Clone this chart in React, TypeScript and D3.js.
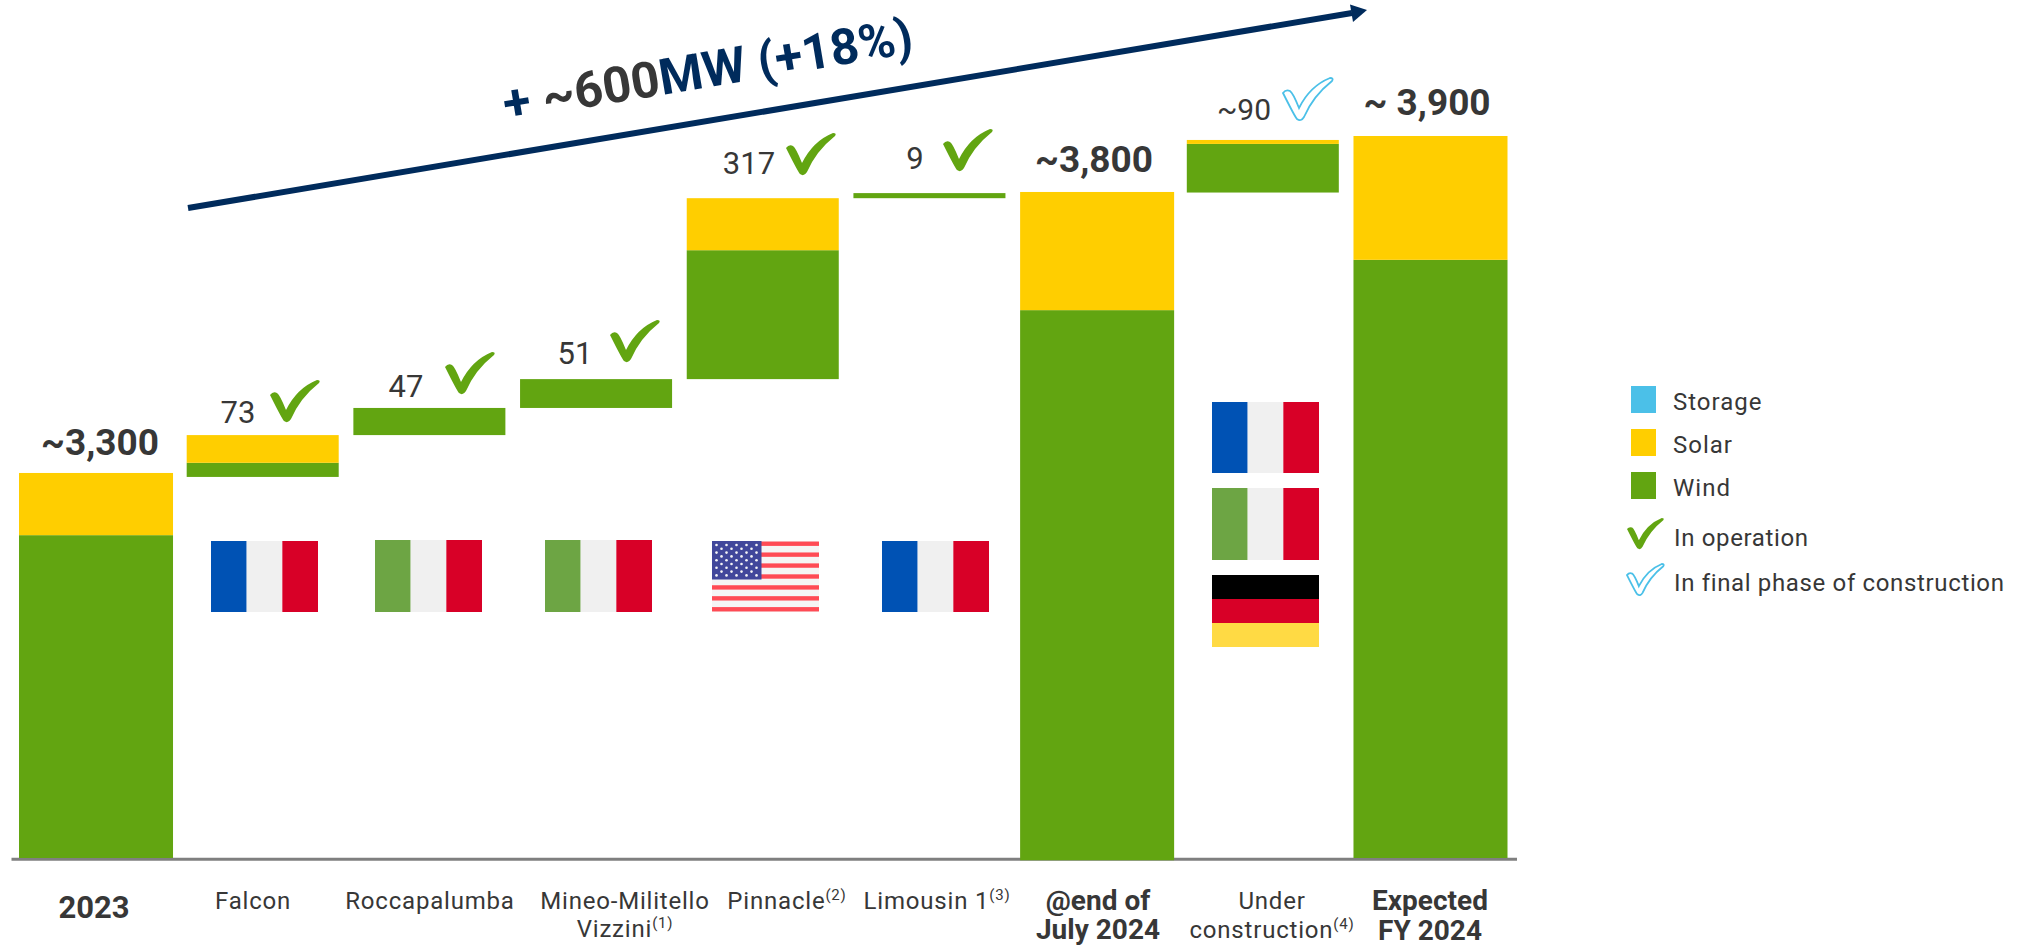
import { useRef, useEffect } from 'react';
import * as d3 from 'd3';

// MW values. The value axis is cut: it starts at axisFloor, not zero.
const axisFloor = 2619;
const axisTop = 3896;
const categories = ['2023', 'Falcon', 'Roccapalumba', 'Mineo', 'Pinnacle', 'Limousin', 'July2024', 'Construction', 'FY2024'];
const floorMW = [2619, 3293, 3367, 3415, 3466, 3786, 2615, 3796, 2619];
const windMW = [571, 25, 48, 51, 228, 9, 973, 86, 1058];
const solarMW = [110, 49, 0, 0, 92, 0, 209, 7, 219];
const valueLabels = ['~3,300', '73', '47', '51', '317', '9', '~3,800', '~90', '~ 3,900'];
const axisLabels: [string, string][][] = [
  [['2023', '']],
  [['Falcon', '']],
  [['Roccapalumba', '']],
  [['Mineo-Militello', ''], ['Vizzini', '(1)']],
  [['Pinnacle', '(2)']],
  [['Limousin 1', '(3)']],
  [['@end of', ''], ['July 2024', '']],
  [['Under', ''], ['construction', '(4)']],
  [['Expected', ''], ['FY 2024', '']],
];
const boldColumns = ['2023', 'July2024', 'FY2024'];
const legendSquares = ['Storage', 'Solar', 'Wind'];
const legendChecks = ['In operation', 'In final phase of construction'];

// layout of the annotations
const valueLabelX = [100, 238, 406, 575, 749, 915, 1094, 1244, 1427];
const valueLabelY = [455, 423, 397, 364, 174, 169, 172, 120, 115];
const axisLabelX = [94, 253, 430, 625, 787, 937, 1098, 1272, 1430];
const axisLabelY = [[918], [909], [909], [909, 937], [909], [909], [910, 939], [909, 938], [910, 939.5]];
const checks = [
  { x: 270, y: 380, done: true },
  { x: 445, y: 352, done: true },
  { x: 610, y: 320, done: true },
  { x: 786, y: 133, done: true },
  { x: 943, y: 129, done: true },
  { x: 1283, y: 78, done: false },
];
const flags = [
  { kind: 'fr', x: 211, y: 541 },
  { kind: 'it', x: 375, y: 540 },
  { kind: 'it', x: 545, y: 540 },
  { kind: 'us', x: 712, y: 541 },
  { kind: 'fr', x: 882, y: 541 },
  { kind: 'fr', x: 1212, y: 402 },
  { kind: 'it', x: 1212, y: 488 },
  { kind: 'de', x: 1212, y: 575 },
];

const WIND = '#62a511';
const SOLAR = '#ffce00';
const STORAGE = '#4bc0e8';
const NAVY = '#002b5c';
const TEXT = '#373737';
const FONT = 'Roboto, sans-serif';
const CHECK_PATH = 'M0 15 Q3 11 7 13 Q10 15 16 30 Q27 8 47 0 Q51 0 49 3 Q30 18 21 39 Q18 44 14 41 Q12 39 0 15 Z';

const App = () => {
  const svgRef = useRef<SVGSVGElement>(null);

  useEffect(() => {
    if (!svgRef.current) return;
    const svg = d3.select(svgRef.current);
    svg.selectAll('*').remove();

    const x = d3.scaleBand()
      .domain(categories)
      .range([11.5, 1517])
      .paddingInner(0.088)
      .paddingOuter(0.06)
      .align(0.425);
    const y = d3.scaleLinear().domain([axisFloor, axisTop]).range([858, 136]);

    // axis line goes under the bars, labels are added by hand because of the superscripts
    const axis = svg.append('g')
      .attr('transform', 'translate(-0.5,858.7)')
      .call(d3.axisBottom(x).tickSize(0).tickSizeOuter(0).tickFormat(() => ''));
    axis.select('.domain').attr('stroke', '#7f7f7f').attr('stroke-width', 3);

    const bars = svg.append('g').selectAll('g')
      .data(categories)
      .join('g');
    const barX = (c: string) => x(c)! - (c === '2023' ? 1 : 0);
    const barW = (c: string) => x.bandwidth() + (boldColumns.includes(c) ? 2 : 0);
    bars.append('rect')
      .attr('x', barX)
      .attr('width', barW)
      .attr('y', (_, i) => y(floorMW[i] + windMW[i]))
      .attr('height', (_, i) => y(floorMW[i]) - y(floorMW[i] + windMW[i]))
      .attr('fill', WIND);
    bars.filter((_, i) => solarMW[i] > 0).append('rect')
      .attr('x', barX)
      .attr('width', barW)
      .attr('y', (c) => { const i = categories.indexOf(c); return y(floorMW[i] + windMW[i] + solarMW[i]); })
      .attr('height', (c) => { const i = categories.indexOf(c); return y(floorMW[i] + windMW[i]) - y(floorMW[i] + windMW[i] + solarMW[i]); })
      .attr('fill', SOLAR);

    // value labels
    svg.append('g').selectAll('text')
      .data(valueLabels)
      .join('text')
      .attr('x', (_, i) => valueLabelX[i])
      .attr('y', (_, i) => valueLabelY[i])
      .attr('text-anchor', 'middle')
      .attr('font-family', FONT)
      .attr('fill', TEXT)
      .attr('font-weight', (_, i) => (boldColumns.includes(categories[i]) ? 700 : 400))
      .attr('font-size', (_, i) => (boldColumns.includes(categories[i]) ? 37 : i === 7 ? 30 : 31))
      .text((d) => d);

    // category labels
    axisLabels.forEach((lines, i) => {
      const bold = boldColumns.includes(categories[i]);
      lines.forEach(([label, sup], j) => {
        const t = svg.append('text')
          .attr('x', axisLabelX[i])
          .attr('y', axisLabelY[i][j])
          .attr('text-anchor', 'middle')
          .attr('font-family', FONT)
          .attr('fill', TEXT)
          .attr('font-weight', bold ? 700 : 400)
          .attr('font-size', categories[i] === '2023' ? 31 : bold ? 28 : 24)
          .attr('letter-spacing', bold ? 0 : 0.8)
          .text(label);
        if (sup) t.append('tspan').attr('font-size', 15).attr('dy', -9).text(sup);
      });
    });

    // flags
    const flagW = 107;
    const flagH = 71;
    const stripes: Record<string, string[]> = {
      fr: ['#0052b4', '#f0f0f0', '#d80027'],
      it: ['#6da544', '#f0f0f0', '#d80027'],
    };
    const flagG = svg.append('g');
    flags.forEach((f) => {
      const g = flagG.append('g').attr('transform', `translate(${f.x},${f.y})`);
      if (stripes[f.kind]) {
        g.selectAll('rect').data(stripes[f.kind]).join('rect')
          .attr('x', (_, i) => (i * flagW) / 3)
          .attr('width', flagW / 3)
          .attr('height', f.kind === 'it' ? flagH + 1 : flagH)
          .attr('fill', (d) => d);
      } else if (f.kind === 'de') {
        g.selectAll('rect').data(['#000000', '#d80027', '#ffda44']).join('rect')
          .attr('y', (_, i) => (i * 72) / 3)
          .attr('width', flagW)
          .attr('height', 24)
          .attr('fill', (d) => d);
      } else {
        const sh = flagH / 13;
        g.append('rect').attr('width', flagW).attr('height', flagH).attr('rx', 2).attr('fill', '#f5f5f5');
        g.selectAll('.stripe').data(d3.range(0, 13, 2)).join('rect')
          .attr('y', (d) => d * sh + sh * 0.1)
          .attr('width', flagW)
          .attr('height', sh * 0.8)
          .attr('fill', '#ff4b55');
        g.append('rect').attr('width', 49.5).attr('height', 38.5).attr('fill', '#41479b');
        d3.range(9).forEach((r) => {
          const n = r % 2 ? 4 : 5;
          d3.range(n).forEach((c) => {
            g.append('circle')
              .attr('cx', (r % 2 ? 9.5 : 4.5) + c * 10)
              .attr('cy', 4 + r * 3.8)
              .attr('r', 1.3)
              .attr('fill', '#f5f5f5');
          });
        });
      }
    });

    // check marks
    const drawCheck = (px: number, py: number, scale: number, done: boolean) => {
      svg.append('path')
        .attr('d', CHECK_PATH)
        .attr('transform', `translate(${px},${py}) scale(${scale})`)
        .attr('fill', done ? WIND : '#ffffff')
        .attr('stroke', done ? 'none' : STORAGE)
        .attr('stroke-width', done ? 0 : 1.8 / scale);
    };
    checks.forEach((c) => drawCheck(c.x, c.y, 1, c.done));

    // growth arrow
    svg.append('line')
      .attr('x1', 188).attr('y1', 208)
      .attr('x2', 1352).attr('y2', 13)
      .attr('stroke', NAVY)
      .attr('stroke-width', 6);
    svg.append('path')
      .attr('d', d3.line()([[1367, 10], [1350, 4.5], [1353, 22]])! + 'Z')
      .attr('fill', NAVY);
    const title = svg.append('text')
      .attr('transform', 'translate(506,121) rotate(-9.5)')
      .attr('font-family', FONT)
      .attr('font-weight', 700)
      .attr('font-size', 50)
      .attr('fill', NAVY);
    title.append('tspan').text('+ ');
    title.append('tspan').attr('fill', TEXT).text('~600');
    title.append('tspan').text('MW (+18%)');

    // legend
    const legendColor = d3.scaleOrdinal<string>().domain(legendSquares).range([STORAGE, SOLAR, WIND]);
    const legendY = d3.scalePoint().domain(legendSquares).range([386, 472]);
    const legend = svg.append('g');
    legend.selectAll('rect').data(legendSquares).join('rect')
      .attr('x', 1631)
      .attr('y', (d) => legendY(d)!)
      .attr('width', 25)
      .attr('height', 27)
      .attr('fill', (d) => legendColor(d));
    legend.selectAll('.sq').data(legendSquares).join('text')
      .attr('x', 1673)
      .attr('y', (d) => legendY(d)! + 24)
      .attr('font-family', FONT)
      .attr('font-size', 24)
      .attr('letter-spacing', 1)
      .attr('fill', TEXT)
      .text((d) => d);
    legendChecks.forEach((label, i) => {
      drawCheck(1627, 518 + i * 46, 0.74, i === 0);
      legend.append('text')
        .attr('x', 1674)
        .attr('y', 546 + i * 45)
        .attr('font-family', FONT)
        .attr('font-size', 24)
        .attr('letter-spacing', 0.65)
        .attr('fill', TEXT)
        .text(label);
    });

    return () => { svg.selectAll('*').remove(); };
  }, []);

  return (
    <svg
      ref={svgRef}
      width={2036}
      height={947}
      viewBox="0 0 2036 947"
      style={{ position: 'absolute', left: 0, top: 0, display: 'block', background: '#fff' }}
    />
  );
};

export default App;
